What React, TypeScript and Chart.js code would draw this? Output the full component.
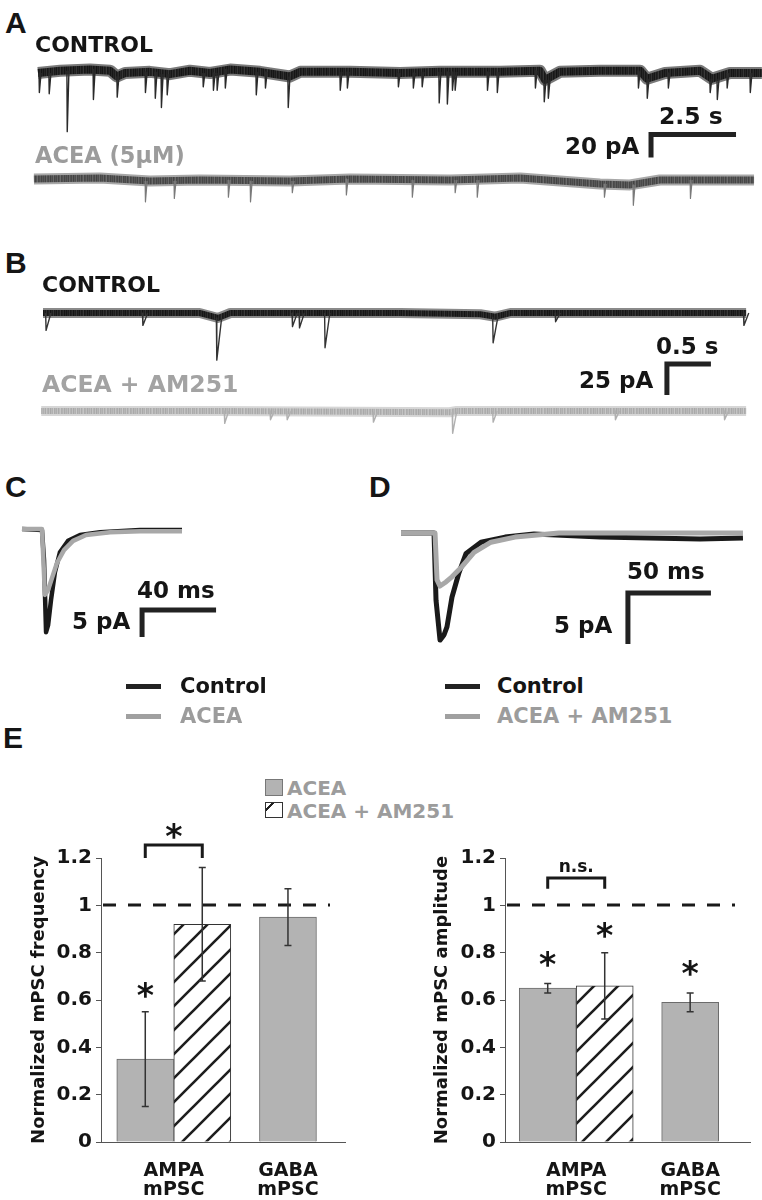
import React, { useEffect, useRef } from 'react';
import { Chart, registerables } from 'chart.js';

Chart.register(...registerables);

// ---------------- DATA ----------------
// Panel A (time in s, current in pA; 0 pA = trace baseline)
const aCtrlBaseT = [0, 0.65, 1.53, 2.12, 2.32, 2.56, 3.29, 3.88, 4.47, 5.06, 5.65, 6.53, 7.41, 7.71, 9.18, 10.65, 11.82, 13.59, 14.76, 14.91, 15.35, 16.53, 17.71, 17.91, 18.44, 19.47, 19.82, 20.35, 21.29];
const aCtrlBaseI = [0, 2, 3, 2, -3, 0, 1, -1, 2, 0, 3, 1, -3, 1, 1, 0, 1, 1, 2, -6, 1, 2, 2, -5, 0, 2, -5, 0, 0];
const aCtrlEvT = [0.03, 0.32, 0.85, 1.62, 2.32, 3.15, 3.44, 3.62, 3.79, 4.85, 5.15, 5.26, 5.5, 6.41, 6.68, 7.35, 8.88, 9.09, 10.59, 11.03, 11.29, 11.79, 12.03, 12.18, 12.26, 13.21, 13.5, 14.62, 14.88, 15.0, 17.65, 17.91, 18.53, 19.76, 19.97, 20.26, 20.94];
const aCtrlEvPeak = [-17, -18, -51, -23, -21, -17, -22, -30, -19, -12, -15, -15, -13, -19, -13, -30, -15, -13, -12, -13, -12, -26, -27, -15, -15, -15, -17, -13, -25, -22, -13, -22, -13, -17, -23, -13, -17];

const aAceaBaseT = [-0.12, 1.82, 3.29, 4.76, 7.41, 9.18, 12.12, 14.18, 16.53, 17.41, 18.29, 21.06];
const aAceaBaseI = [0.9, 1.7, -0.9, 0, -0.9, 0.9, 0, 1.7, -3.5, -4.3, 0, 0];
const aAceaEvT = [3.15, 4.0, 5.59, 6.24, 7.47, 9.06, 11.0, 12.26, 12.91, 16.65, 17.5, 19.18];
const aAceaEvPeak = [-19, -16, -15, -19, -11, -13, -15, -11, -15, -15, -22, -16];

const aScaleSec = 2.5;
const aScalePA = 20;

// Panel B
const bCtrlBaseT = [0, 1.78, 1.99, 2.13, 4.06, 4.97, 5.14, 5.31, 7.99];
const bCtrlBaseI = [0, 0, -4, 0, 0, -1, -3, 0, 0];
const bCtrlEvT = [0.03, 1.13, 1.97, 2.83, 2.91, 3.2, 5.11, 5.82, 7.96];
const bCtrlEvPeak = [-14, -10, -38, -11, -12, -28, -24, -7, -10];

const bAmBaseT = [-0.02, 2.0, 4.62, 4.7, 7.99];
const bAmBaseI = [0, 0, -1, 0, 0];
const bAmEvT = [2.06, 2.58, 2.77, 3.75, 4.65, 5.11, 6.5, 7.74];
const bAmEvPeak = [-10, -7, -7, -9, -18, -9, -7, -7];

const bScaleSec = 0.5;
const bScalePA = 25;

// Panel C (time in ms, current in pA)
const cCtrlT = [0, 10.8, 11.9, 13.0, 14.1, 15.7, 17.8, 20.5, 24.9, 31.4, 42.2, 63.8, 86.5];
const cCtrlI = [0, -0.2, -5.7, -19.1, -17.8, -13.1, -8.0, -4.3, -2.2, -1.1, -0.6, -0.2, -0.2];
const cAceaT = [0, 10.8, 12.4, 14.1, 16.2, 18.9, 22.7, 27.6, 34.6, 47.6, 63.8, 86.5];
const cAceaI = [0, 0, -12.2, -11.3, -9.1, -6.3, -3.9, -2.2, -1.1, -0.6, -0.4, -0.4];
const cScaleMs = 40;
const cScalePA = 5;

// Panel D
const dCtrlT = [0, 19.9, 21.1, 23.5, 25.9, 27.7, 30.7, 34.9, 39.2, 48.2, 62.7, 80.1, 119.9, 150, 180.1, 206];
const dCtrlI = [0, 0, -6.6, -10.5, -10.0, -9.2, -6.3, -3.9, -2.0, -0.9, -0.4, -0.1, -0.4, -0.5, -0.6, -0.5];
const dAmT = [0, 20.5, 21.7, 23.5, 27.1, 30.7, 36.7, 44.0, 54.2, 68.7, 95.2, 206];
const dAmI = [0, 0, -4.6, -5.2, -4.8, -4.3, -3.3, -1.9, -0.9, -0.4, 0, 0];
const dScaleMs = 50;
const dScalePA = 5;

// Panel E
const categoryLabels = [['AMPA', 'mPSC'], ['GABA', 'mPSC']];
const seriesNames = ['ACEA', 'ACEA + AM251'];
const freqAcea = [0.35, 0.95];
const freqAceaSem = [0.2, 0.12];
const freqAm251 = [0.92, null];
const freqAm251Sem = [0.24, null];
const ampAcea = [0.65, 0.59];
const ampAceaSem = [0.02, 0.04];
const ampAm251 = [0.66, null];
const ampAm251Sem = [0.14, null];
const yAxisMax = 1.2;
const yAxisStep = 0.2;
const referenceLevel = 1;

// significance marks (value positions on the y scale)
const freqStars = [{ ds: 0, idx: 0, value: 0.65 }];
const freqBracket = { from: [0, 0], to: [1, 0], top: 1.255, leg: 1.2, text: '*', textValue: 1.32 };
const ampStars = [
  { ds: 0, idx: 0, value: 0.78 },
  { ds: 1, idx: 0, value: 0.9 },
  { ds: 0, idx: 1, value: 0.74 },
];
const ampBracket = { from: [0, 0], to: [1, 0], top: 1.115, leg: 1.07, text: 'n.s.', textValue: 1.16 };

// ---------------- STYLE ----------------
const DV = '"DejaVu Sans", "Noto Sans", sans-serif';
const LIB = '"Liberation Sans", Arial, sans-serif';
const INK = '#151515';
const GRAY_TXT = '#9c9c9c';
const STAR_SIZE = 33;

// texture columns for the noisy recording bands (style only)
const darkTexture = ['#161616', '#262626', '#1c1c1c', '#303030', '#181818', '#222', '#2c2c2c', '#141414', '#262626', '#1e1e1e', '#343434', '#1a1a1a', '#242424', '#161616', '#2e2e2e', '#1c1c1c', '#222', '#383838', '#181818', '#202020', '#2a2a2a', '#151515', '#262626'];
const midTexture = ['#4a4a4a', '#5a5a5a', '#444', '#666', '#505050', '#484848', '#606060', '#424242', '#585858', '#4c4c4c', '#6a6a6a', '#464646', '#545454', '#4a4a4a', '#626262', '#444', '#565656', '#6c6c6c', '#484848', '#505050', '#5e5e5e', '#464646', '#585858'];
const lightTexture = ['#b0b0b0', '#bcbcbc', '#aaa', '#c4c4c4', '#b4b4b4', '#acacac', '#c0c0c0', '#a8a8a8', '#b8b8b8', '#b0b0b0', '#c8c8c8', '#ababab', '#b6b6b6', '#aeaeae', '#c2c2c2', '#aaa', '#bababa', '#c6c6c6', '#adadad', '#b2b2b2', '#bebebe', '#a9a9a9', '#b8b8b8'];

type P = { x: number; y: number | null };

function toPoints(ts: number[], vs: number[]): P[] {
  return ts.map((t, i) => ({ x: t, y: vs[i] }));
}

function eventPoints(baseT: number[], baseI: number[], evT: number[], evPeak: number[], rise: number, decay: number): P[] {
  const out: P[] = [];
  evT.forEach((t, i) => {
    let k = 0;
    baseT.forEach((bt, j) => {
      if (Math.abs(bt - t) < Math.abs(baseT[k] - t)) k = j;
    });
    const b = baseI[k];
    out.push({ x: t, y: b }, { x: t + rise, y: evPeak[i] }, { x: t + decay, y: b }, { x: t + decay, y: null });
  });
  return out;
}

function scaleBarPoints(t0: number, iTop: number, dur: number, amp: number): P[] {
  return [
    { x: t0 + dur, y: iTop },
    { x: t0, y: iTop },
    { x: t0, y: iTop - amp },
  ];
}

function stripePattern(cols: string[]): CanvasPattern {
  const c = document.createElement('canvas');
  c.width = cols.length;
  c.height = 4;
  const g = c.getContext('2d') as CanvasRenderingContext2D;
  cols.forEach((col, i) => {
    g.fillStyle = col;
    g.fillRect(i, 0, 1, 4);
  });
  return g.createPattern(c, 'repeat') as CanvasPattern;
}

function lineDs(data: P[], color: any, width: number, order = 0) {
  return {
    data,
    borderColor: color,
    borderWidth: width,
    pointRadius: 0,
    tension: 0,
    fill: false,
    clip: false as any,
    borderJoinStyle: 'round' as const,
    order,
  };
}

function barDs(data: P[], color: string, width: number) {
  return {
    data,
    borderColor: color,
    borderWidth: width,
    pointRadius: 0,
    tension: 0,
    fill: false,
    clip: false as any,
    borderJoinStyle: 'miter' as const,
    borderCapStyle: 'butt' as const,
    order: 0,
  };
}

type TraceProps = {
  left: number; top: number; width: number; height: number;
  x0px: number; ppuX: number; y0px: number; ppuY: number;
  build: () => any[];
};

function TraceChart(p: TraceProps) {
  const ref = useRef<HTMLCanvasElement>(null);
  useEffect(() => {
    const xMin = -(p.x0px - p.left) / p.ppuX;
    const xMax = xMin + p.width / p.ppuX;
    const yMax = (p.y0px - p.top) / p.ppuY;
    const yMin = yMax - p.height / p.ppuY;
    const chart = new Chart(ref.current as HTMLCanvasElement, {
      type: 'line',
      data: { datasets: p.build() },
      options: {
        animation: false,
        responsive: false,
        devicePixelRatio: 1,
        events: [],
        layout: { padding: 0 },
        plugins: { legend: { display: false }, tooltip: { enabled: false } },
        scales: {
          x: { type: 'linear', display: false, min: xMin, max: xMax },
          y: { type: 'linear', display: false, min: yMin, max: yMax },
        },
      },
    });
    return () => chart.destroy();
  }, []);
  return (
    <canvas
      ref={ref}
      width={p.width}
      height={p.height}
      style={{ position: 'absolute', left: p.left, top: p.top, width: p.width, height: p.height }}
    />
  );
}

function makeHatch(): CanvasPattern {
  const c = document.createElement('canvas');
  c.width = 24;
  c.height = 24;
  const g = c.getContext('2d') as CanvasRenderingContext2D;
  g.fillStyle = '#ffffff';
  g.fillRect(0, 0, 24, 24);
  g.strokeStyle = '#1e1e1e';
  g.lineWidth = 2.6;
  g.beginPath();
  g.moveTo(-6, 30); g.lineTo(30, -6);
  g.moveTo(-6, 6); g.lineTo(6, -6);
  g.moveTo(18, 30); g.lineTo(30, 18);
  g.stroke();
  return g.createPattern(c, 'repeat') as CanvasPattern;
}

type Star = { ds: number; idx: number; value: number };
type Bracket = { from: number[]; to: number[]; top: number; leg: number; text: string; textValue: number };

type BarProps = {
  left: number; top: number; width: number; height: number;
  axisWidth: number; padRight: number; titlePad: number; title: string;
  xMin: number; xMax: number;
  acea: (number | null)[]; aceaSem: (number | null)[];
  am: (number | null)[]; amSem: (number | null)[];
  stars: Star[]; bracket: Bracket;
};

function BarPanel(p: BarProps) {
  const ref = useRef<HTMLCanvasElement>(null);
  useEffect(() => {
    const hatch = makeHatch();
    const vals = [p.acea, p.am];
    const errs = [p.aceaSem, p.amSem];
    const annot = {
      id: 'annot',
      afterDatasetsDraw(chart: any) {
        const { ctx, chartArea } = chart;
        const y = chart.scales.y;
        ctx.save();
        // reference dashed line
        ctx.strokeStyle = '#1a1a1a';
        ctx.lineWidth = 3;
        ctx.setLineDash([13, 12]);
        const yr = Math.round(y.getPixelForValue(referenceLevel));
        ctx.beginPath();
        ctx.moveTo(chartArea.left + 2, yr);
        ctx.lineTo(chartArea.right - 15, yr);
        ctx.stroke();
        ctx.setLineDash([]);
        // error bars
        ctx.strokeStyle = '#333';
        ctx.lineWidth = 1.5;
        errs.forEach((arr, di) => {
          const meta = chart.getDatasetMeta(di);
          arr.forEach((e, i) => {
            const v = vals[di][i];
            if (v == null || e == null) return;
            const bx = meta.data[i].x;
            const yl = y.getPixelForValue(v - e);
            const yh = y.getPixelForValue(v + e);
            ctx.beginPath();
            ctx.moveTo(bx, yl); ctx.lineTo(bx, yh);
            ctx.moveTo(bx - 3.5, yl); ctx.lineTo(bx + 3.5, yl);
            ctx.moveTo(bx - 3.5, yh); ctx.lineTo(bx + 3.5, yh);
            ctx.stroke();
          });
        });
        // stars
        ctx.fillStyle = INK;
        ctx.textAlign = 'center';
        ctx.textBaseline = 'alphabetic';
        ctx.font = `bold ${STAR_SIZE}px ${DV}`;
        p.stars.forEach((s) => {
          const bx = chart.getDatasetMeta(s.ds).data[s.idx].x;
          ctx.fillText('*', bx, y.getPixelForValue(s.value) + 0.56 * STAR_SIZE);
        });
        // bracket
        const b = p.bracket;
        const x1 = chart.getDatasetMeta(b.from[0]).data[b.from[1]].x;
        const x2 = chart.getDatasetMeta(b.to[0]).data[b.to[1]].x;
        const yt = y.getPixelForValue(b.top);
        const yl = y.getPixelForValue(b.leg);
        ctx.strokeStyle = '#1a1a1a';
        ctx.lineWidth = 3;
        ctx.lineJoin = 'miter';
        ctx.beginPath();
        ctx.moveTo(x1, yl); ctx.lineTo(x1, yt); ctx.lineTo(x2, yt); ctx.lineTo(x2, yl);
        ctx.stroke();
        if (b.text === '*') {
          ctx.font = `bold ${STAR_SIZE}px ${DV}`;
          ctx.fillText('*', (x1 + x2) / 2, y.getPixelForValue(b.textValue) + 0.56 * STAR_SIZE);
        } else {
          ctx.font = `bold 17px ${DV}`;
          ctx.fillText(b.text, (x1 + x2) / 2, y.getPixelForValue(b.textValue) + 0.27 * 17);
        }
        ctx.restore();
      },
    };
    // category label sits under the filled bars of each group
    const labelPos = categoryLabels.map((_, i) => (p.am[i] == null ? i - 0.2 : i));
    const chart = new Chart(ref.current as HTMLCanvasElement, {
      type: 'bar',
      data: {
        datasets: [
          {
            label: seriesNames[0],
            data: p.acea.map((v, i) => ({ x: i, y: v })) as any,
            backgroundColor: '#b3b3b3',
            borderColor: '#6b6b6b',
            borderWidth: 1,
            barThickness: 57,
          },
          {
            label: seriesNames[1],
            data: p.am.map((v, i) => ({ x: i, y: v })) as any,
            backgroundColor: hatch as any,
            borderColor: '#333',
            borderWidth: 1,
            barThickness: 57,
          },
        ],
      },
      options: {
        animation: false,
        responsive: false,
        devicePixelRatio: 1,
        events: [],
        layout: { padding: { top: 38, right: p.padRight, left: 0, bottom: 0 } },
        plugins: { legend: { display: false }, tooltip: { enabled: false } },
        scales: {
          x: {
            type: 'linear',
            min: p.xMin,
            max: p.xMax,
            offset: false,
            afterBuildTicks: (s: any) => {
              s.ticks = labelPos.map((v) => ({ value: v }));
            },
            afterFit: (s: any) => {
              s.height = 58;
            },
            ticks: {
              callback: (_v: any, i: number) => categoryLabels[i],
              color: INK,
              font: { family: DV, weight: 'bold', size: 19, lineHeight: 1.0 },
              padding: 20,
              autoSkip: false,
              maxRotation: 0,
            },
            grid: { display: false, drawTicks: false },
            border: { display: true, color: '#555', width: 1 },
          },
          y: {
            min: 0,
            max: yAxisMax,
            afterFit: (s: any) => {
              s.width = p.axisWidth;
            },
            ticks: {
              stepSize: yAxisStep,
              callback: (v: any) => String(Math.round(Number(v) * 10) / 10),
              color: INK,
              font: { family: DV, weight: 'bold', size: 20 },
              padding: 4,
            },
            grid: { drawOnChartArea: false, drawTicks: true, tickLength: 5, color: '#555' },
            border: { display: true, color: '#555', width: 1 },
            title: {
              display: true,
              text: p.title,
              color: INK,
              font: { family: DV, weight: 'bold', size: 18 },
              padding: { top: p.titlePad, bottom: 0 },
            },
          },
        },
      },
      plugins: [annot],
    });
    return () => chart.destroy();
  }, []);
  return (
    <canvas
      ref={ref}
      width={p.width}
      height={p.height}
      style={{ position: 'absolute', left: p.left, top: p.top, width: p.width, height: p.height }}
    />
  );
}

function Txt(props: { x: number; cap: number; size: number; color?: string; lib?: boolean; children: any }) {
  const k = props.lib ? 0.131 : 0.117;
  return (
    <div
      style={{
        position: 'absolute',
        left: props.x,
        top: props.cap - k * props.size,
        fontFamily: props.lib ? LIB : DV,
        fontWeight: 700,
        fontSize: props.size,
        lineHeight: 1,
        color: props.color || INK,
        whiteSpace: 'nowrap',
      }}
    >
      {props.children}
    </div>
  );
}

function Dash(props: { x: number; y: number; color: string }) {
  return <div style={{ position: 'absolute', left: props.x, top: props.y, width: 35, height: 5, background: props.color }} />;
}

export default function App() {
  return (
    <div style={{ position: 'absolute', left: 0, top: 0, width: 762, height: 1200, background: '#fff', overflow: 'hidden' }}>
      {/* Panel A */}
      <TraceChart
        left={20} top={55} width={742} height={90} x0px={38} ppuX={34} y0px={73} ppuY={1.15}
        build={() => [
          lineDs(toPoints(aCtrlBaseT, aCtrlBaseI), '#7a7a7a', 12, 2),
          lineDs(toPoints(aCtrlBaseT, aCtrlBaseI), stripePattern(darkTexture), 8, 1),
          lineDs(eventPoints(aCtrlBaseT, aCtrlBaseI, aCtrlEvT, aCtrlEvPeak, 0.01, 0.06), '#2a2a2a', 1.4, 0),
        ]}
      />
      <TraceChart
        left={20} top={125} width={742} height={90} x0px={38} ppuX={34} y0px={180} ppuY={1.15}
        build={() => [
          lineDs(toPoints(aAceaBaseT, aAceaBaseI), '#a8a8a8', 11, 2),
          lineDs(toPoints(aAceaBaseT, aAceaBaseI), stripePattern(midTexture), 7, 1),
          lineDs(eventPoints(aAceaBaseT, aAceaBaseI, aAceaEvT, aAceaEvPeak, 0.01, 0.06), '#7a7a7a', 1.2, 0),
          barDs(scaleBarPoints(18.03, 39.6, aScaleSec, aScalePA), '#222', 5),
        ]}
      />
      <Txt x={5} cap={12} size={30} lib>A</Txt>
      <Txt x={35} cap={37} size={22}>CONTROL</Txt>
      <Txt x={659} cap={108} size={23.5}>{`${aScaleSec} s`}</Txt>
      <Txt x={565} cap={138} size={23}>{`${aScalePA} pA`}</Txt>
      <Txt x={35} cap={147} size={22.5} color={GRAY_TXT}>ACEA (5µM)</Txt>

      {/* Panel B */}
      <TraceChart
        left={20} top={290} width={742} height={80} x0px={43} ppuX={88} y0px={313} ppuY={1.24}
        build={() => [
          lineDs(toPoints(bCtrlBaseT, bCtrlBaseI), '#8a8a8a', 10, 2),
          lineDs(toPoints(bCtrlBaseT, bCtrlBaseI), stripePattern(darkTexture), 6, 1),
          lineDs(eventPoints(bCtrlBaseT, bCtrlBaseI, bCtrlEvT, bCtrlEvPeak, 0.005, 0.06), '#333', 1.4, 0),
        ]}
      />
      <TraceChart
        left={20} top={350} width={742} height={90} x0px={43} ppuX={88} y0px={411} ppuY={1.24}
        build={() => [
          lineDs(toPoints(bAmBaseT, bAmBaseI), '#d6d6d6', 10, 2),
          lineDs(toPoints(bAmBaseT, bAmBaseI), stripePattern(lightTexture), 6, 1),
          lineDs(eventPoints(bAmBaseT, bAmBaseI, bAmEvT, bAmEvPeak, 0.005, 0.05), '#b0b0b0', 1.4, 0),
          barDs(scaleBarPoints(7.09, 37.9, bScaleSec, bScalePA), '#222', 5),
        ]}
      />
      <Txt x={5} cap={252} size={30} lib>B</Txt>
      <Txt x={42} cap={277} size={22}>CONTROL</Txt>
      <Txt x={656} cap={338} size={23}>{`${bScaleSec} s`}</Txt>
      <Txt x={579} cap={372} size={23}>{`${bScalePA} pA`}</Txt>
      <Txt x={42} cap={376} size={23.5} color="#a3a3a3">ACEA + AM251</Txt>

      {/* Panel C */}
      <TraceChart
        left={10} top={510} width={230} height={135} x0px={22} ppuX={1.85} y0px={529} ppuY={5.4}
        build={() => [
          lineDs(toPoints(cCtrlT, cCtrlI), '#1a1a1a', 4.5, 2),
          lineDs(toPoints(cAceaT, cAceaI), '#a8a8a8', 4.5, 1),
          barDs(scaleBarPoints(64.9, -15, cScaleMs, cScalePA), '#222', 5),
        ]}
      />
      <Txt x={5} cap={476} size={30} lib>C</Txt>
      <Txt x={137} cap={582} size={23}>{`${cScaleMs} ms`}</Txt>
      <Txt x={72} cap={613} size={23}>{`${cScalePA} pA`}</Txt>
      <Dash x={126} y={684} color="#222" />
      <Dash x={126} y={714} color="#a0a0a0" />
      <Txt x={180} cap={678} size={21}>Control</Txt>
      <Txt x={180} cap={708} size={21} color={GRAY_TXT}>ACEA</Txt>

      {/* Panel D */}
      <TraceChart
        left={390} top={510} width={372} height={145} x0px={401} ppuX={1.66} y0px={533} ppuY={10.2}
        build={() => [
          lineDs(toPoints(dCtrlT, dCtrlI), '#1a1a1a', 5, 2),
          lineDs(toPoints(dAmT, dAmI), '#a8a8a8', 5, 1),
          barDs(scaleBarPoints(136.7, -5.88, dScaleMs, dScalePA), '#222', 5),
        ]}
      />
      <Txt x={369} cap={476} size={30} lib>D</Txt>
      <Txt x={627} cap={563} size={23}>{`${dScaleMs} ms`}</Txt>
      <Txt x={554} cap={617} size={23}>{`${dScalePA} pA`}</Txt>
      <Dash x={445} y={684} color="#222" />
      <Dash x={445} y={714} color="#a0a0a0" />
      <Txt x={497} cap={678} size={21}>Control</Txt>
      <Txt x={497} cap={708} size={21} color={GRAY_TXT}>ACEA + AM251</Txt>

      {/* Panel E */}
      <Txt x={3} cap={727} size={30} lib>E</Txt>
      <div style={{ position: 'absolute', left: 265, top: 779, width: 18, height: 17, boxSizing: 'border-box', background: '#b3b3b3', border: '1px solid #777' }} />
      <div
        style={{
          position: 'absolute', left: 265, top: 802, width: 18, height: 16, boxSizing: 'border-box',
          border: '1px solid #333',
          background: 'linear-gradient(135deg, #fff 0 18%, #222 18% 28%, #fff 28% 100%)',
        }}
      />
      <Txt x={287} cap={780} size={20} color={GRAY_TXT}>{seriesNames[0]}</Txt>
      <Txt x={287} cap={803} size={20} color={GRAY_TXT}>{seriesNames[1]}</Txt>

      <BarPanel
        left={0} top={820} width={400} height={380}
        axisWidth={101} padRight={55} titlePad={29} title="Normalized mPSC frequency"
        xMin={-0.51} xMax={1.2}
        acea={freqAcea} aceaSem={freqAceaSem} am={freqAm251} amSem={freqAm251Sem}
        stars={freqStars} bracket={freqBracket}
      />
      <BarPanel
        left={400} top={820} width={362} height={380}
        axisWidth={105} padRight={12} titlePad={32} title="Normalized mPSC amplitude"
        xMin={-0.5} xMax={1.22}
        acea={ampAcea} aceaSem={ampAceaSem} am={ampAm251} amSem={ampAm251Sem}
        stars={ampStars} bracket={ampBracket}
      />
    </div>
  );
}
